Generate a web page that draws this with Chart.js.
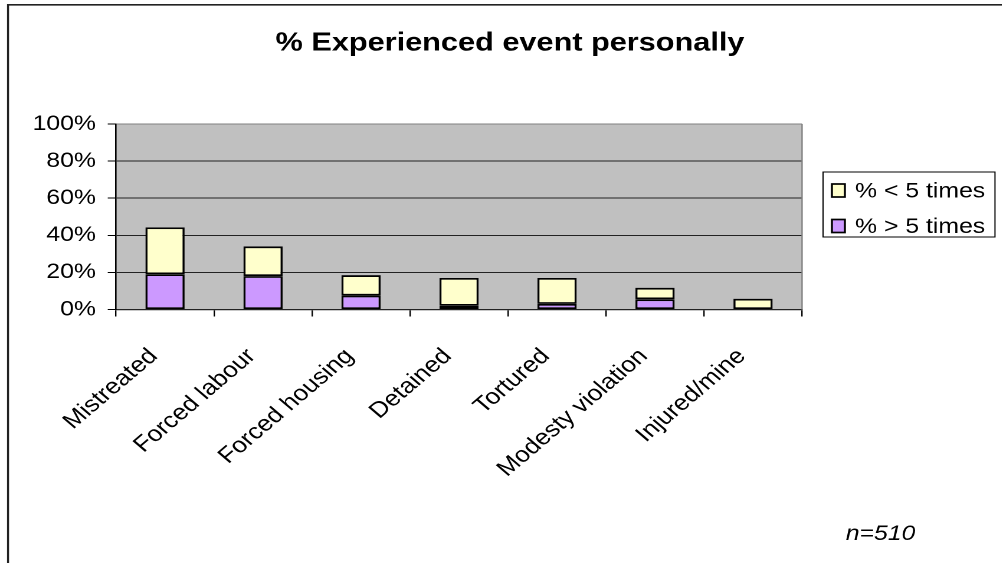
<!DOCTYPE html>
<html lang="en">
<head>
  <meta charset="UTF-8" />
  <title>% Experienced event personally</title>
  <script src="https://cdn.jsdelivr.net/npm/chart.js"></script>
  <style>
    body {
      margin: 0;
      background: #fff;
      overflow: hidden;
    }

    /* the sheet is laid out narrow and then widened, so text comes out broad */
    #wrap {
      position: absolute;
      left: 0;
      top: 0;
      width: 849px;
      height: 563px;
      transform: scaleX(1.18);
      transform-origin: 0 0;
    }
  </style>
</head>
<body>
  <div id="wrap"><canvas id="eventsChart"></canvas></div>

  <script>
    const chartTitle = "% Experienced event personally";
    const categories = ["Mistreated", "Forced labour", "Forced housing", "Detained", "Tortured", "Modesty violation", "Injured/mine"];
    const moreThanFive = [19, 18, 7.5, 2, 3, 5.5, 0];
    const lessThanFive = [25.3, 16, 11, 15, 14, 6.2, 5.8];
    const seriesNames = ["% > 5 times", "% < 5 times"];
    const yTicks = [0, 20, 40, 60, 80, 100];
    const sampleNote = "n=510";

    const FONT = "'Liberation Sans', Arial, sans-serif";
    const PURPLE = "#cc99ff";
    const YELLOW = "#ffffcc";

    // frame, grey plot area, title, boxed legend and the n= note
    const sheet = {
      id: "sheet",
      beforeDraw(chart) {
        const { ctx, chartArea: a } = chart;
        ctx.save();
        ctx.strokeStyle = "#222";
        ctx.lineWidth = 1.7;
        ctx.beginPath();
        ctx.moveTo(6.8, chart.height);
        ctx.lineTo(6.8, 4.8);
        ctx.lineTo(chart.width, 4.8);
        ctx.stroke();
        ctx.fillStyle = "#c0c0c0";
        ctx.fillRect(a.left, a.top, a.right - a.left, a.bottom - a.top);
        ctx.restore();
      },
      beforeDatasetsDraw(chart) {
        const { ctx, chartArea: a } = chart;
        ctx.save();
        ctx.strokeStyle = "#808080";
        ctx.lineWidth = 1.2;
        ctx.beginPath();
        ctx.moveTo(a.right, a.top);
        ctx.lineTo(a.right, a.bottom);
        ctx.stroke();
        ctx.restore();
      },
      afterDraw(chart) {
        const ctx = chart.ctx;
        ctx.save();
        ctx.fillStyle = "#000";

        ctx.font = "bold 26px " + FONT;
        ctx.textAlign = "center";
        ctx.textBaseline = "alphabetic";
        ctx.fillText(chartTitle, 432.2, 50.5);

        // legend box, top series first
        ctx.strokeStyle = "#000";
        ctx.lineWidth = 1;
        ctx.strokeRect(697.5, 172, 145.7, 65);
        const sets = chart.data.datasets.slice().reverse();
        const rows = [190.5, 226];
        ctx.font = "21px " + FONT;
        ctx.textAlign = "left";
        ctx.textBaseline = "middle";
        sets.forEach((ds, i) => {
          const y = rows[i];
          ctx.fillStyle = ds.backgroundColor;
          ctx.fillRect(705, y - 6.5, 11, 13);
          ctx.lineWidth = 1.7;
          ctx.strokeRect(705, y - 6.5, 11, 13);
          ctx.fillStyle = "#000";
          ctx.fillText(ds.label, 724.6, y + 1);
        });

        ctx.font = "italic 21px " + FONT;
        ctx.textBaseline = "alphabetic";
        ctx.fillText(sampleNote, 716.7, 540);
        ctx.restore();
      }
    };

    new Chart(document.getElementById("eventsChart"), {
      type: "bar",
      data: {
        labels: categories,
        datasets: [
          {
            label: seriesNames[0],
            data: moreThanFive,
            backgroundColor: PURPLE,
            borderColor: "#000",
            borderWidth: 1.8,
            borderSkipped: false
          },
          {
            label: seriesNames[1],
            data: lessThanFive,
            backgroundColor: YELLOW,
            borderColor: "#000",
            borderWidth: 1.8,
            borderSkipped: false
          }
        ]
      },
      options: {
        responsive: true,
        maintainAspectRatio: false,
        animation: false,
        devicePixelRatio: 2,
        barPercentage: 0.4,
        categoryPercentage: 1,
        layout: { padding: { top: 124, left: 0, right: 169.3, bottom: 0 } },
        plugins: {
          legend: { display: false },
          title: { display: false },
          tooltip: { enabled: false }
        },
        scales: {
          x: {
            stacked: true,
            afterFit: s => { s.height = 253.5; },
            grid: {
              offset: true,
              drawOnChartArea: false,
              tickLength: 7,
              tickColor: "#000",
              lineWidth: 1.2
            },
            border: { color: "#222", width: 1.3 },
            ticks: {
              color: "#000",
              font: { family: FONT, size: 22 },
              minRotation: 45,
              maxRotation: 45,
              autoSkip: false,
              labelOffset: -9.6,
              padding: 27
            }
          },
          y: {
            stacked: true,
            min: yTicks[0],
            max: yTicks[yTicks.length - 1],
            afterFit: s => { s.width = 98.3; },
            afterBuildTicks: s => { s.ticks = yTicks.map(v => ({ value: v })); },
            grid: {
              color: c => (c.tick && c.tick.value === 100 ? "#808080" : "#222"),
              tickColor: "#000",
              tickLength: 7,
              lineWidth: 1
            },
            border: { color: "#000", width: 1.3 },
            ticks: {
              color: "#000",
              font: { family: FONT, size: 21 },
              padding: 10,
              callback: v => v + "%"
            }
          }
        }
      },
      plugins: [sheet]
    });
  </script>
</body>
</html>
